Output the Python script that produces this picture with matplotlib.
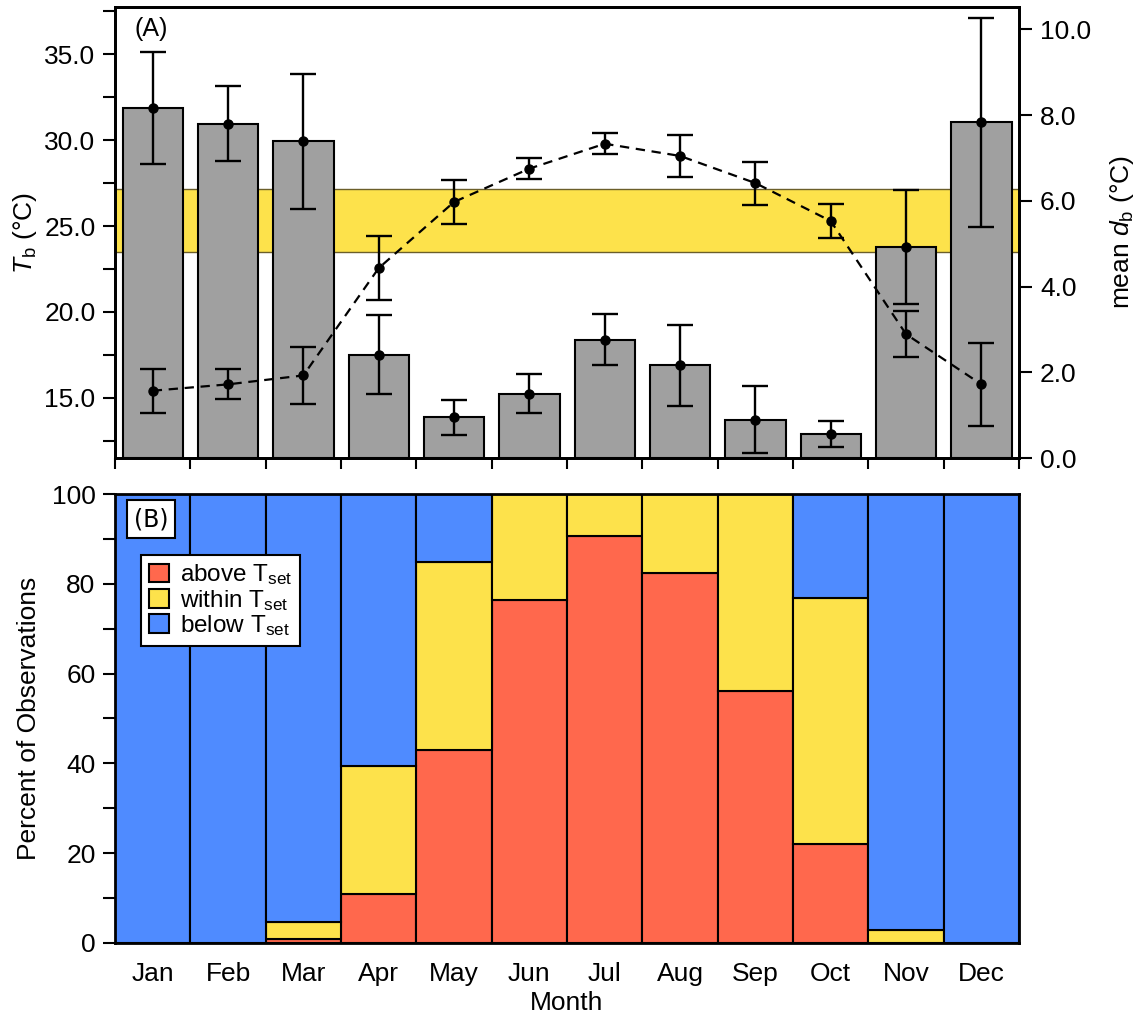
import matplotlib
matplotlib.use("Agg")
import matplotlib.pyplot as plt
import numpy as np
from matplotlib.ticker import MultipleLocator, FormatStrFormatter
from matplotlib.patches import Patch

plt.rcParams['font.family'] = ['Liberation Sans', 'DejaVu Sans']
plt.rcParams['mathtext.fontset'] = 'custom'
plt.rcParams['mathtext.rm'] = 'Liberation Sans'
plt.rcParams['mathtext.it'] = 'Liberation Sans:italic'

months = ['Jan', 'Feb', 'Mar', 'Apr', 'May', 'Jun',
          'Jul', 'Aug', 'Sep', 'Oct', 'Nov', 'Dec']

# Mean deviation of body temperature from the set-point range (bars, right axis)
db_mean = [8.17, 7.80, 7.39, 2.41, 0.95, 1.50, 2.76, 2.16, 0.89, 0.56, 4.92, 7.83]
db_err = [1.30, 0.88, 1.57, 0.92, 0.41, 0.46, 0.59, 0.95, 0.78, 0.31, 1.33, 2.43]

# Mean body temperature (dashed line, left axis)
tb_mean = [15.41, 15.78, 16.30, 22.55, 26.40, 28.34, 29.79, 29.08, 27.50, 25.29, 18.70, 15.78]
tb_err = [1.29, 0.87, 1.65, 1.88, 1.29, 0.60, 0.62, 1.22, 1.25, 0.99, 1.33, 2.42]

# Preferred temperature range
tset_low = 23.47
tset_high = 27.17

# Share of observations relative to the set-point range
pct_above = [0, 0, 0.9, 10.9, 43.0, 76.4, 90.7, 82.3, 56.1, 22.0, 0, 0]
pct_within = [0, 0, 3.7, 28.6, 41.8, 23.6, 9.3, 17.7, 43.9, 54.8, 2.9, 0]
pct_below = [100, 100, 95.4, 60.5, 15.2, 0, 0, 0, 0, 23.2, 97.1, 100]

GRAY = '#a0a0a0'
YELLOW = '#fde24b'
RED = '#ff684d'
BLUE = '#4f8bff'
FS = 19

x = np.arange(len(months)) + 0.5

fig = plt.figure(figsize=(11.39, 10.19), dpi=100)
pos_a = [0.101, 0.5505, 0.7937, 0.4426]
ax1 = fig.add_axes(pos_a)          # left axis + set-point band (bottom layer)
ax1r = ax1.twinx()                 # bars on the right axis
ax1t = fig.add_axes(pos_a, sharex=ax1, sharey=ax1)  # Tb line on top
ax2 = fig.add_axes([0.101, 0.0746, 0.7937, 0.4406])

ax1.set_zorder(1)
ax1r.set_zorder(2)
ax1t.set_zorder(3)
ax1r.patch.set_visible(False)
ax1t.patch.set_visible(False)
ax1t.axis('off')

# ---- Panel A ----
ax1.axhspan(tset_low, tset_high, facecolor=YELLOW, edgecolor='#6b5e2a', lw=1.0, zorder=0)

ax1r.bar(x, db_mean, width=0.8, color=GRAY, edgecolor='black', linewidth=1.5, zorder=2)
ax1r.errorbar(x, db_mean, yerr=db_err, fmt='o', color='black', ms=6.5,
              elinewidth=1.7, capsize=9.5, capthick=1.7, zorder=3)

ax1t.plot(x, tb_mean, color='black', lw=1.6, dashes=(4.2, 3.0), zorder=3)
ax1t.errorbar(x, tb_mean, yerr=tb_err, fmt='o', color='black', ms=6.5,
              elinewidth=1.7, capsize=9.5, capthick=1.7, zorder=4)

ax1.set_xlim(0, 12)
ax1.set_ylim(11.49, 37.75)
ax1r.set_ylim(0, 10.52)

ax1.yaxis.set_major_locator(MultipleLocator(5))
ax1.yaxis.set_minor_locator(MultipleLocator(2.5))
ax1.yaxis.set_major_formatter(FormatStrFormatter('%.1f'))
ax1r.yaxis.set_major_locator(MultipleLocator(2))
ax1r.yaxis.set_major_formatter(FormatStrFormatter('%.1f'))

ax1.set_xticks(np.arange(0, 13))
ax1.set_xticklabels([])
ax1.tick_params(axis='x', direction='out', length=8, width=1.5)
ax1.tick_params(axis='y', which='both', direction='out', length=9, width=1.5,
                labelsize=FS, pad=5)
ax1r.tick_params(axis='y', direction='out', length=9, width=1.5, labelsize=FS, pad=6)

for a in (ax1, ax1r):
    for s in a.spines.values():
        s.set_linewidth(2)

ax1.set_ylabel(r'$T_{\mathrm{b}}$ (°C)', fontsize=FS, labelpad=4)
ax1r.set_ylabel(r'mean $d_{\mathrm{b}}$ (°C)', fontsize=FS, labelpad=12)
ax1.text(0.0402, 0.951, '(A)', transform=ax1.transAxes, fontsize=18,
         ha='center', va='center')

# ---- Panel B ----
ax2.bar(x, pct_above, width=1.0, color=RED, edgecolor='black', linewidth=1.5)
ax2.bar(x, pct_within, width=1.0, bottom=pct_above, color=YELLOW,
        edgecolor='black', linewidth=1.5)
bottom_below = np.array(pct_above) + np.array(pct_within)
ax2.bar(x, pct_below, width=1.0, bottom=bottom_below, color=BLUE,
        edgecolor='black', linewidth=1.5)

ax2.set_xlim(0, 12)
ax2.set_ylim(0, 100)
ax2.yaxis.set_major_locator(MultipleLocator(20))
ax2.yaxis.set_minor_locator(MultipleLocator(10))
ax2.set_xticks(x)
ax2.set_xticklabels(months)
ax2.tick_params(axis='x', length=0, labelsize=FS, pad=14)
ax2.tick_params(axis='y', which='both', direction='out', length=9, width=1.5,
                labelsize=FS, pad=5)
for s in ax2.spines.values():
    s.set_linewidth(2)

ax2.set_xlabel('Month', fontsize=FS, labelpad=3)
ax2.set_ylabel('Percent of Observations', fontsize=FS, labelpad=8)

ax2.text(0.0398, 0.944, '(B)', transform=ax2.transAxes, fontsize=17,
         family='DejaVu Sans', ha='center', va='center',
         bbox=dict(boxstyle='square,pad=0.3', facecolor='white',
                   edgecolor='black', linewidth=1.5))

handles = [Patch(facecolor=RED, edgecolor='black', linewidth=1.5),
           Patch(facecolor=YELLOW, edgecolor='black', linewidth=1.5),
           Patch(facecolor=BLUE, edgecolor='black', linewidth=1.5)]
labels = [r'above T$_{\mathrm{set}}$', r'within T$_{\mathrm{set}}$',
          r'below T$_{\mathrm{set}}$']
leg = ax2.legend(handles, labels, loc='upper left', bbox_to_anchor=(0.0285, 0.865),
                 borderaxespad=0, fontsize=17.5, frameon=True, fancybox=False,
                 handlelength=0.85, handleheight=0.8, handletextpad=0.45,
                 labelspacing=0.02, borderpad=0.32)
leg.get_frame().set_edgecolor('black')
leg.get_frame().set_linewidth(1.5)
leg.get_frame().set_alpha(1.0)

fig.savefig('out.png', dpi=100)
